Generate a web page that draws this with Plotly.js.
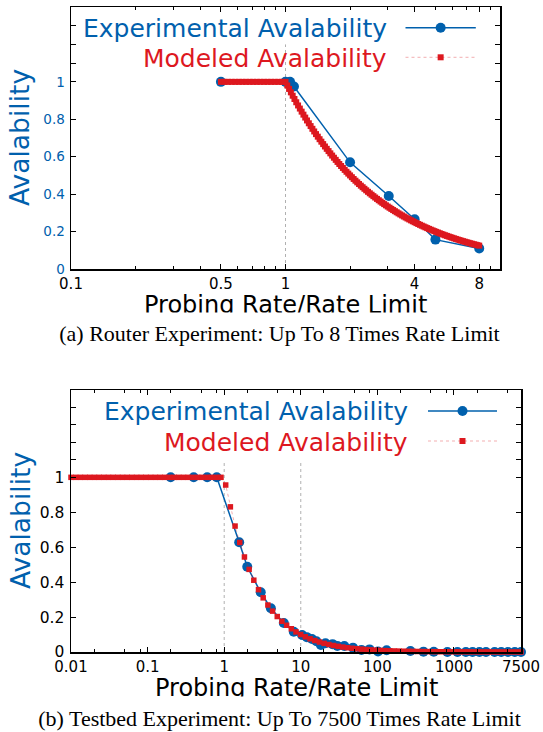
<!DOCTYPE html>
<html><head><meta charset="utf-8">
<script src="https://cdn.plot.ly/plotly-3.0.1.min.js"></script>
<style>html,body{margin:0;padding:0;background:#fff}#chart{width:543px;height:732px}</style>
</head><body><div id="chart"></div>
<script>
// ---------- Data ----------
// (a) Router experiment
const routerExpX = [0.5, 1.0, 1.05, 1.095, 2.0, 3.03, 4.0, 5.0, 8.0];
const routerExpY = [1.0, 1.0, 1.0, 0.975, 0.57, 0.39, 0.266, 0.157, 0.11];
const routerModelX = [0.5, 0.5196, 0.54, 0.5612, 0.5833, 0.6061, 0.63, 0.6547, 0.6804, 0.7071, 0.7349, 0.7637, 0.7937, 0.8248, 0.8573, 0.8909, 0.9259, 0.9622, 1.0,
  1.0194, 1.0393, 1.0595, 1.08, 1.101, 1.1225, 1.1443, 1.1665, 1.1892, 1.2124, 1.236, 1.2599, 1.2844, 1.3094, 1.3349, 1.3608, 1.3873, 1.4142, 1.4417,
  1.4697, 1.4983, 1.5274, 1.5571, 1.5874, 1.6183, 1.6498, 1.6819, 1.7145, 1.7478, 1.7818, 1.8164, 1.8517, 1.8877, 1.9245, 1.9619, 2.0,
  2.0389, 2.0786, 2.119, 2.16, 2.202, 2.2449, 2.2886, 2.333, 2.3784, 2.4248, 2.472, 2.5198, 2.5688, 2.6188, 2.6698, 2.7216, 2.7746, 2.8284, 2.8834,
  2.9394, 2.9966, 3.0548, 3.1142, 3.1748, 3.2366, 3.2996, 3.3638, 3.429, 3.4956, 3.5636, 3.6328, 3.7034, 3.7754, 3.849, 3.9238, 4.0,
  4.0778, 4.157, 4.238, 4.32, 4.404, 4.49, 4.5772, 4.666, 4.7568, 4.85, 4.944, 5.04, 5.1376, 5.238, 5.3396, 5.443, 5.5492, 5.657, 5.7668,
  5.879, 5.9932, 6.11, 6.2284, 6.35, 6.4732, 6.599, 6.7276, 6.858, 6.9912, 7.127, 7.2656, 7.407, 7.5508, 7.698, 7.8476, 8.0];
const routerModelY = [1, 1, 1, 1, 1, 1, 1, 1, 1, 1, 1, 1, 1, 1, 1, 1, 1, 1, 1,
  0.9809, 0.9622, 0.9439, 0.9259, 0.9083, 0.8909, 0.8739, 0.8573, 0.8409, 0.8248, 0.8091, 0.7937, 0.7786, 0.7637, 0.7491, 0.7349, 0.7208, 0.7071, 0.6936,
  0.6804, 0.6674, 0.6547, 0.6422, 0.63, 0.6179, 0.6061, 0.5946, 0.5833, 0.5721, 0.5612, 0.5505, 0.54, 0.5297, 0.5196, 0.5097, 0.5,
  0.4905, 0.4811, 0.4719, 0.463, 0.4541, 0.4454, 0.437, 0.4287, 0.4205, 0.4124, 0.4045, 0.3969, 0.3893, 0.3819, 0.3746, 0.3674, 0.3604, 0.3536, 0.3468,
  0.3402, 0.3337, 0.3274, 0.3211, 0.315, 0.309, 0.3031, 0.2973, 0.2916, 0.2861, 0.2806, 0.2753, 0.27, 0.2649, 0.2598, 0.2549, 0.25,
  0.2452, 0.2406, 0.236, 0.2315, 0.2271, 0.2227, 0.2185, 0.2143, 0.2102, 0.2062, 0.2023, 0.1984, 0.1946, 0.1909, 0.1873, 0.1837, 0.1802, 0.1768, 0.1734,
  0.1701, 0.1669, 0.1637, 0.1606, 0.1575, 0.1545, 0.1515, 0.1486, 0.1458, 0.143, 0.1403, 0.1376, 0.135, 0.1324, 0.1299, 0.1274, 0.125];

// (b) Testbed experiment
const testbedExpX = [0.2, 0.4, 0.6, 0.8, 1.57, 2.0, 3.0, 4.07, 6.0, 8.1, 10.4, 12, 14, 16, 18.3, 21, 26, 30, 37, 48, 62, 79, 102, 132, 270, 400, 545, 820, 1110, 1430, 1750, 2150, 2620, 3390, 4140, 5070, 6220, 7500];
const testbedExpY = [1, 1, 1, 1, 0.628, 0.488, 0.342, 0.25, 0.166, 0.116, 0.097, 0.085, 0.074, 0.062, 0.04, 0.05, 0.045, 0.035, 0.034, 0.025, 0.012, 0.015, 0.003, 0.01, 0.006, 0.002, 0.001, 0, 0, 0, 0, 0, 0, 0, 0, 0, 0, 0];
const testbedModelX = [0.01, 0.01151, 0.01326, 0.01526, 0.01757, 0.02023, 0.02329, 0.02682, 0.03087, 0.03554, 0.04092, 0.04711, 0.05424, 0.06245, 0.0719, 0.08279, 0.09532,
  0.1097, 0.1264, 0.1455, 0.1675, 0.1929, 0.2221, 0.2557, 0.2944, 0.3388, 0.3902, 0.4492, 0.5172, 0.5955, 0.6856, 0.7891, 0.9085,
  1.046, 1.204, 1.387, 1.596, 1.838, 2.116, 2.436, 2.805, 3.229, 3.718, 4.28, 4.928, 5.674, 6.533, 7.521, 8.66, 9.97,
  11.48, 13.22, 15.22, 17.52, 20.17, 23.23, 26.74, 30.79, 35.45, 40.81, 46.98, 54.1, 62.28, 71.71, 82.56, 95.04,
  109.4, 126.0, 145.0, 167.0, 192.2, 221.3, 254.8, 293.4, 337.8, 388.9, 447.7, 515.5, 593.5, 683.3, 786.7, 905.8,
  1043, 1201, 1382, 1591, 1832, 2109, 2429, 2796, 3219, 3707, 4268, 4913, 5657, 6513, 7499];
const testbedModelY = [1, 1, 1, 1, 1, 1, 1, 1, 1, 1, 1, 1, 1, 1, 1, 1, 1,
  1, 1, 1, 1, 1, 1, 1, 1, 1, 1, 1, 1, 1, 1, 1, 1,
  0.956, 0.831, 0.721, 0.627, 0.544, 0.473, 0.411, 0.357, 0.31, 0.269, 0.234, 0.203, 0.176, 0.153, 0.133, 0.115, 0.1,
  0.0871, 0.0756, 0.0657, 0.0571, 0.0496, 0.043, 0.0374, 0.0325, 0.0282, 0.0245, 0.0213, 0.0185, 0.0161, 0.0139, 0.0121, 0.0105,
  0.0091, 0.0079, 0.0069, 0.006, 0.0052, 0.0045, 0.0039, 0.0034, 0.003, 0.0026, 0.0022, 0.0019, 0.0017, 0.0015, 0.0013, 0.0011,
  0.001, 0.0008, 0.0007, 0.0006, 0.0005, 0.0005, 0.0004, 0.0004, 0.0003, 0.0003, 0.0002, 0.0002, 0.0002, 0.0002, 0.0001];

// Tick labels
const routerXTicks = [0.1, 0.5, 1, 4, 8];
const routerXTickText = ['0.1', '0.5', '1', '4', '8'];
const routerXMinor = [0.2, 0.3, 0.4, 0.6, 0.7, 0.8, 0.9, 2, 3, 5, 6, 7, 9];
const routerYTicks = [0, 0.2, 0.4, 0.6, 0.8, 1, 1.1, 1.2, 1.3];
const routerYTickText = ['0', '0.2', '0.4', '0.6', '0.8', '1', '', '', ''];
const testbedXTicks = [0.01, 0.1, 1, 10, 100, 1000, 7500];
const testbedXTickText = ['0.01', '0.1', '1', '10', '100', '1000', '7500'];
const testbedXMinor = [0.02, 0.05, 0.08, 0.2, 0.5, 0.8, 2, 5, 8, 20, 50, 80, 200, 500, 800, 2000, 5000];
const testbedYTicks = [0, 0.2, 0.4, 0.6, 0.8, 1, 1.1, 1.2, 1.3, 1.4];
const testbedYTickText = ['0', '0.2', '0.4', '0.6', '0.8', '1', '', '', '', ''];

const legendExp = 'Experimental Avalability';
const legendModel = 'Modeled Avalability';
const yTitle = 'Avalability';
const xTitle = 'Probing Rate/Rate Limit';
const captionA = '(a) Router Experiment: Up To 8 Times Rate Limit';
const captionB = '(b) Testbed Experiment: Up To 7500 Times Rate Limit';

// ---------- Styling ----------
const W = 543, H = 732;
const BLUE = '#0060ad', RED = '#dd181f';
const SANS = 'DejaVu Sans', SERIF = 'Liberation Serif';
const px = v => v / W;
const py = v => 1 - v / H;

function expTrace(x, y, xa, ya) {
  return {x, y, xaxis: xa, yaxis: ya, type: 'scatter', mode: 'lines+markers',
    line: {color: BLUE, width: 1.5}, marker: {color: BLUE, size: 10, symbol: 'circle', line: {width: 0}},
    showlegend: false, hoverinfo: 'skip', cliponaxis: false};
}
function modelTrace(x, y, xa, ya, size) {
  return {x, y, xaxis: xa, yaxis: ya, type: 'scatter', mode: 'lines+markers',
    line: {color: 'rgba(221,24,31,0.35)', width: 1, dash: 'dot'},
    marker: {color: RED, size: size, symbol: 'square', line: {width: 0}},
    showlegend: false, hoverinfo: 'skip', cliponaxis: false};
}

const data = [
  expTrace(routerExpX, routerExpY, 'x', 'y'),
  modelTrace(routerModelX, routerModelY, 'x', 'y', 6),
  expTrace(testbedExpX, testbedExpY, 'x2', 'y2'),
  modelTrace(testbedModelX, testbedModelY, 'x2', 'y2', 5.5)
];

function xAxis(domain, range, tv, tt, minor, anchor) {
  return {domain, range, type: 'log', anchor, tickmode: 'array', tickvals: tv, ticktext: tt,
    ticks: 'inside', ticklen: 5, tickwidth: 1, tickcolor: '#000',
    showline: true, linecolor: '#000', linewidth: 1.5, mirror: 'allticks',
    showgrid: false, zeroline: false, tickangle: 0,
    tickfont: {family: SANS, size: 15, color: '#000'},
    minor: {tickmode: 'array', tickvals: minor, ticks: 'inside', ticklen: 3, tickwidth: 1, tickcolor: '#000', showgrid: false}};
}
function yAxis(domain, range, tv, tt, color, size, anchor) {
  return {domain, range, anchor, tickmode: 'array', tickvals: tv, ticktext: tt,
    ticks: 'inside', ticklen: 5, tickwidth: 1, tickcolor: '#000',
    showline: true, linecolor: '#000', linewidth: 1.5, mirror: 'allticks',
    showgrid: false, zeroline: false, ticklabelstandoff: 2,
    tickfont: {family: SANS, size: size, color: color}};
}

const annotations = [];
function ann(text, x, y, o) {
  annotations.push(Object.assign({text, x, y, xref: 'paper', yref: 'paper', showarrow: false,
    xanchor: 'center', yanchor: 'middle', borderpad: 0}, o));
}
// chart (a)
ann(legendExp, px(388), py(28.7), {xanchor: 'right', font: {family: SANS, size: 25, color: BLUE}});
ann(legendModel, px(388), py(58.5), {xanchor: 'right', font: {family: SANS, size: 25, color: RED}});
ann(yTitle, px(19), py(138), {textangle: -90, font: {family: SANS, size: 26.5, color: BLUE}});
ann(xTitle, px(285.5), py(305), {font: {family: SANS, size: 24, color: '#000'}});
ann(captionA, px(279.5), py(333), {width: 543, height: 40, bgcolor: '#fff', font: {family: SERIF, size: 22, color: '#000'}});
// chart (b)
ann(legendExp, px(409.3), py(411.3), {xanchor: 'right', font: {family: SANS, size: 25, color: BLUE}});
ann(legendModel, px(409.3), py(442), {xanchor: 'right', font: {family: SANS, size: 25, color: RED}});
ann(yTitle, px(20), py(521), {textangle: -90, font: {family: SANS, size: 26.5, color: BLUE}});
ann(xTitle, px(296), py(688), {font: {family: SANS, size: 24, color: '#000'}});
ann(captionB, px(279.5), py(718), {width: 543, height: 42, bgcolor: '#fff', font: {family: SERIF, size: 22, color: '#000'}});

const shapes = [];
// reference guide lines at rate limit
const guide = {color: '#b0b0b0', width: 1, dash: 'dot'};
shapes.push({type: 'line', xref: 'x', yref: 'y', x0: 1, x1: 1, y0: 0, y1: 1.2, layer: 'below', line: guide});
shapes.push({type: 'line', xref: 'x2', yref: 'y2', x0: 1, x1: 1, y0: 0, y1: 1.09, layer: 'below', line: guide});
shapes.push({type: 'line', xref: 'x2', yref: 'y2', x0: 10, x1: 10, y0: 0, y1: 1.09, layer: 'below', line: guide});
// legend samples
function legendSamples(x0, x1, yExp, yMod) {
  const xm = (x0 + x1) / 2;
  shapes.push({type: 'line', xref: 'paper', yref: 'paper', x0: px(x0), x1: px(x1), y0: py(yExp), y1: py(yExp), line: {color: BLUE, width: 1.5}});
  shapes.push({type: 'circle', xref: 'paper', yref: 'paper', x0: px(xm - 5), x1: px(xm + 5), y0: py(yExp + 5), y1: py(yExp - 5), fillcolor: BLUE, line: {width: 0}});
  shapes.push({type: 'line', xref: 'paper', yref: 'paper', x0: px(x0), x1: px(x1), y0: py(yMod), y1: py(yMod), line: {color: 'rgba(221,24,31,0.35)', width: 1, dash: 'dot'}});
  shapes.push({type: 'rect', xref: 'paper', yref: 'paper', x0: px(xm - 3), x1: px(xm + 3), y0: py(yMod + 3), y1: py(yMod - 3), fillcolor: RED, line: {width: 0}});
}
legendSamples(405.5, 475.8, 27.7, 57.3);
legendSamples(428, 497, 411, 441);

const layout = {
  width: W, height: H, autosize: false,
  margin: {l: 0, r: 0, t: 0, b: 0, pad: 0},
  paper_bgcolor: '#fff', plot_bgcolor: '#fff', showlegend: false,
  xaxis: xAxis([px(71), px(500)], [-1, 1], routerXTicks, routerXTickText, routerXMinor, 'y'),
  yaxis: yAxis([py(269), py(7)], [0, 1.4], routerYTicks, routerYTickText, BLUE, 13.5, 'x'),
  xaxis2: xAxis([px(71), px(521)], [-2, Math.log10(7500)], testbedXTicks, testbedXTickText, testbedXMinor, 'y2'),
  yaxis2: yAxis([py(652), py(390)], [0, 1.5], testbedYTicks, testbedYTickText, '#000', 15.5, 'x2'),
  annotations, shapes
};

Plotly.newPlot('chart', data, layout, {staticPlot: true, displayModeBar: false});
</script>
</body></html>
